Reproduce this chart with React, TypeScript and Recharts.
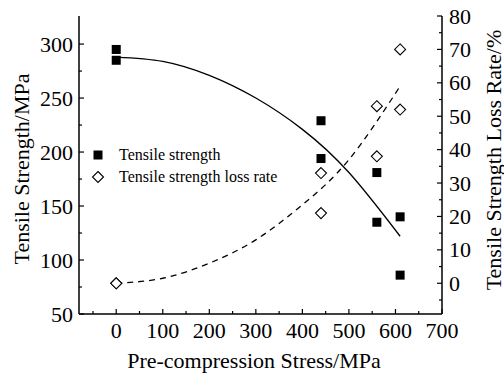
import { ComposedChart, Scatter, Line, XAxis, YAxis, Legend } from 'recharts'

const FONT = '"Liberation Serif", "Times New Roman", serif'

// measured points
const stress = [0, 0, 440, 440, 560, 560, 610, 610]
const strength = [295, 285, 229, 194, 181, 135, 140, 86]
const lossRate = [0, 0, 33, 21, 53, 38, 70, 52]

// fitted curves
const fitStress = [0, 100, 200, 300, 400, 500, 610]
const strengthFit = [288, 284, 271, 250, 221, 181, 122]
const lossFit = [0, 1.5, 6, 13, 23.5, 37, 59]

// ticks (majors get labels)
const xTicks = [-50, 0, 50, 100, 150, 200, 250, 300, 350, 400, 450, 500, 550, 600, 650, 700]
const leftTicks = [50, 75, 100, 125, 150, 175, 200, 225, 250, 275, 300]
const rightTicks = [-5, 0, 5, 10, 15, 20, 25, 30, 35, 40, 45, 50, 55, 60, 65, 70, 75, 80]

const strengthPoints = stress.map((x, i) => ({ x, y: strength[i] }))
const lossPoints = stress.map((x, i) => ({ x, y: lossRate[i] }))
const strengthCurve = fitStress.map((x, i) => ({ x, y: strengthFit[i] }))
const lossCurve = fitStress.map((x, i) => ({ x, y: lossFit[i] }))

function BottomTick({ x, y, payload }: any) {
  const major = payload.value % 100 === 0
  return (
    <g>
      <line x1={x} y1={y} x2={x} y2={y - (major ? 5 : 3)} stroke="#000" strokeWidth={1.2} />
      {major && (
        <text x={x} y={y + 24} textAnchor="middle" fontSize={22} fontFamily={FONT} fill="#000">
          {payload.value}
        </text>
      )}
    </g>
  )
}

function LeftTick({ x, y, payload }: any) {
  const major = payload.value % 50 === 0
  return (
    <g>
      <line x1={x} y1={y} x2={x + (major ? 5 : 3)} y2={y} stroke="#000" strokeWidth={1.2} />
      {major && (
        <text x={x - 6} y={y + 7.5} textAnchor="end" fontSize={22} fontFamily={FONT} fill="#000">
          {payload.value}
        </text>
      )}
    </g>
  )
}

function RightTick({ x, y, payload }: any) {
  const major = payload.value % 10 === 0
  return (
    <g>
      <line x1={x} y1={y} x2={x - (major ? 5 : 3)} y2={y} stroke="#000" strokeWidth={1.2} />
      {major && (
        <text x={x + 7} y={y + 7.5} textAnchor="start" fontSize={22} fontFamily={FONT} fill="#000">
          {payload.value}
        </text>
      )}
    </g>
  )
}

const SquareMark = ({ cx, cy }: any) => (
  <rect x={cx - 4.5} y={cy - 4.5} width={9} height={9} fill="#000" />
)

const DiamondMark = ({ cx, cy }: any) => (
  <path
    d={`M${cx},${cy - 5.5} L${cx + 5.5},${cy} L${cx},${cy + 5.5} L${cx - 5.5},${cy} Z`}
    fill="#fff"
    stroke="#000"
    strokeWidth={1.1}
  />
)

function LegendBox() {
  return (
    <div style={{ fontFamily: FONT, fontSize: 16, lineHeight: '22px', color: '#000' }}>
      <div style={{ display: 'flex', alignItems: 'center', height: 22 }}>
        <svg width={20} height={22}>
          <rect x={5.5} y={6.5} width={9} height={9} fill="#000" />
        </svg>
        <span style={{ marginLeft: 11, whiteSpace: 'nowrap' }}>Tensile strength</span>
      </div>
      <div style={{ display: 'flex', alignItems: 'center', height: 22 }}>
        <svg width={20} height={22}>
          <path d="M10,5.5 L15.5,11 L10,16.5 L4.5,11 Z" fill="#fff" stroke="#000" strokeWidth={1.1} />
        </svg>
        <span style={{ marginLeft: 11, whiteSpace: 'nowrap' }}>Tensile strength loss rate</span>
      </div>
    </div>
  )
}

export default function App() {
  return (
    <div style={{ position: 'absolute', left: 0, top: 0, background: '#fff' }}>
      <ComposedChart width={504} height={374} margin={{ top: 16, right: 0, bottom: 0, left: 0 }}>
        <XAxis
          xAxisId="top"
          orientation="top"
          type="number"
          domain={[-80, 700]}
          allowDataOverflow
          height={0}
          tick={false}
          tickLine={false}
          axisLine={{ stroke: '#000', strokeWidth: 1.5 }}
        />
        <XAxis
          dataKey="x"
          type="number"
          domain={[-80, 700]}
          allowDataOverflow
          ticks={xTicks}
          interval={0}
          height={60}
          tickSize={0}
          tickMargin={0}
          tickLine={false}
          tick={<BottomTick />}
          axisLine={{ stroke: '#000', strokeWidth: 1.5 }}
          label={() => (
            <text x={254} y={368} textAnchor="middle" fontSize={22} fontFamily={FONT} fill="#000">
              Pre-compression Stress/MPa
            </text>
          )}
        />
        <YAxis
          yAxisId="left"
          type="number"
          domain={[50, 326]}
          allowDataOverflow
          ticks={leftTicks}
          interval={0}
          width={79}
          tickSize={0}
          tickMargin={0}
          tickLine={false}
          tick={<LeftTick />}
          axisLine={{ stroke: '#000', strokeWidth: 1.5 }}
          label={() => (
            <text
              x={21}
              y={169}
              transform="rotate(-90 21 169)"
              textAnchor="middle"
              dominantBaseline="central"
              fontSize={22}
              fontFamily={FONT}
              fill="#000"
            >
              Tensile Strength/MPa
            </text>
          )}
        />
        <YAxis
          yAxisId="right"
          orientation="right"
          type="number"
          domain={[-9.2, 80]}
          allowDataOverflow
          ticks={rightTicks}
          interval={0}
          width={62}
          tickSize={0}
          tickMargin={0}
          tickLine={false}
          tick={<RightTick />}
          axisLine={{ stroke: '#000', strokeWidth: 1.5 }}
          label={() => (
            <text
              x={493}
              y={160}
              transform="rotate(-90 493 160)"
              textAnchor="middle"
              dominantBaseline="central"
              fontSize={22}
              fontFamily={FONT}
              fill="#000"
            >
              Tensile Strength Loss Rate/%
            </text>
          )}
        />
        <Legend
          layout="horizontal"
          verticalAlign="middle"
          align="center"
          content={() => <LegendBox />}
          wrapperStyle={{ left: 88, top: 144, width: 'auto' }}
        />
        <Line
          yAxisId="left"
          data={strengthCurve}
          dataKey="y"
          type="natural"
          stroke="#000"
          strokeWidth={1.3}
          dot={false}
          activeDot={false}
          isAnimationActive={false}
          legendType="none"
        />
        <Line
          yAxisId="right"
          data={lossCurve}
          dataKey="y"
          type="natural"
          stroke="#000"
          strokeWidth={1.3}
          strokeDasharray="6 5"
          dot={false}
          activeDot={false}
          isAnimationActive={false}
          legendType="none"
        />
        <Scatter
          yAxisId="left"
          data={strengthPoints}
          dataKey="y"
          shape={<SquareMark />}
          isAnimationActive={false}
        />
        <Scatter
          yAxisId="right"
          data={lossPoints}
          dataKey="y"
          shape={<DiamondMark />}
          isAnimationActive={false}
        />
      </ComposedChart>
    </div>
  )
}
